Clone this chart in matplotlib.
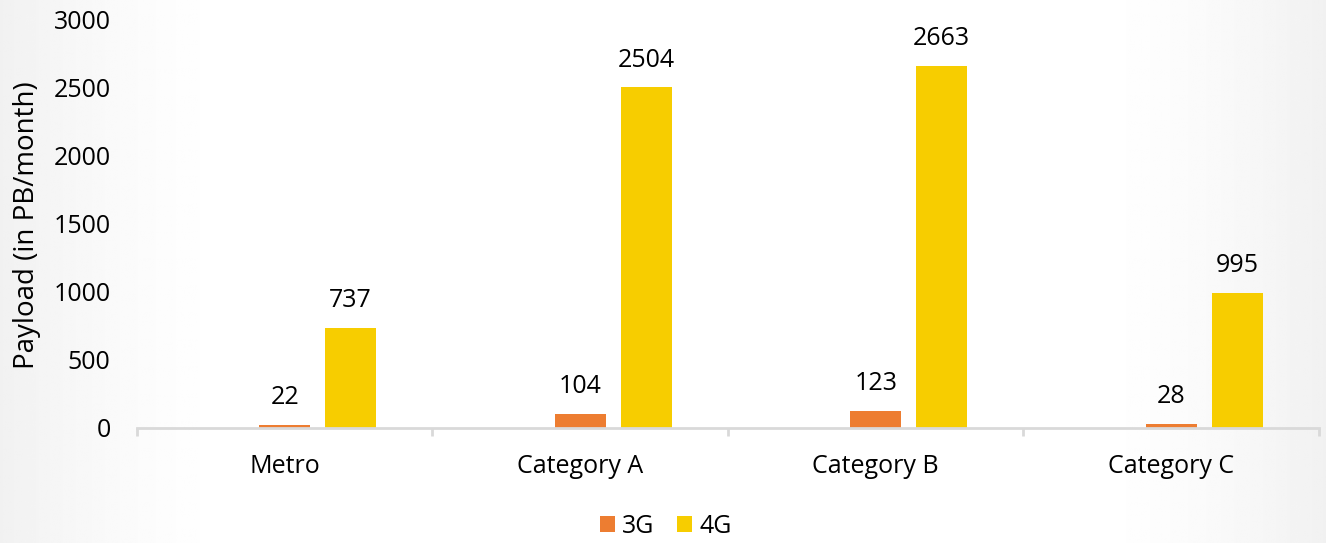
import numpy as np
import matplotlib.pyplot as plt

plt.rcParams['font.family'] = ['Open Sans', 'DejaVu Sans']

categories = ["Metro", "Category A", "Category B", "Category C"]
payload_3g = [22, 104, 123, 28]
payload_4g = [737, 2504, 2663, 995]
y_ticks = [0, 500, 1000, 1500, 2000, 2500, 3000]

color_3g = "#ED7D31"
color_4g = "#F7CD00"
axis_grey = "#D9D9D9"

fig = plt.figure(figsize=(13.26, 5.43), dpi=100)

# soft grey fade towards the left and right edges
bg = fig.add_axes([0, 0, 1, 1], zorder=-10)
xs = np.linspace(0, 1, 600)
edge = np.clip(1 - np.minimum(xs, 1 - xs) / 0.18, 0, 1)
shade = 1 - 0.055 * edge ** 1.5
bg.imshow(np.tile(shade, (20, 1)), cmap="gray", vmin=0, vmax=1,
          aspect="auto", extent=[0, 1, 0, 1])
bg.set_axis_off()

ax = fig.add_axes([0.1033, 0.2118, 0.8914, 0.7514])
ax.patch.set_alpha(0)

x = np.arange(len(categories))
width = 0.1726
step = 0.2234
bars_3g = ax.bar(x, payload_3g, width, color=color_3g, label="3G")
bars_4g = ax.bar(x + step, payload_4g, width, color=color_4g, label="4G")

for bars, vals in ((bars_3g, payload_3g), (bars_4g, payload_4g)):
    for b, v in zip(bars, vals):
        ax.annotate(str(v), (b.get_x() + b.get_width() / 2, v),
                    xytext=(0, 15), textcoords="offset points",
                    ha="center", va="baseline", fontsize=18, color="black")

ax.set_xlim(-0.5, len(categories) - 0.5)
ax.set_ylim(0, 3000)
ax.set_yticks(y_ticks)
ax.tick_params(axis="y", length=0, pad=19, labelsize=18)

ax.set_xticks(x)
ax.set_xticklabels(categories)
ax.set_xticks(np.arange(len(categories) + 1) - 0.5, minor=True)
ax.tick_params(axis="x", which="major", length=0, pad=19, labelsize=18)
ax.tick_params(axis="x", which="minor", length=6, width=2, color=axis_grey)

for side in ("top", "right", "left"):
    ax.spines[side].set_visible(False)
ax.spines["bottom"].set_color(axis_grey)
ax.spines["bottom"].set_linewidth(2)

fig.text(0.020, 0.586, "Payload (in PB/month)", rotation=90,
         ha="center", va="center", fontsize=20)

fig.legend(handles=[bars_3g, bars_4g], labels=["3G", "4G"],
           loc="center", bbox_to_anchor=(0.502, 0.030), ncol=2,
           frameon=False, fontsize=18, handlelength=0.6, handleheight=0.6,
           handletextpad=0.3, columnspacing=0.9)

fig.savefig("out.png", dpi=100)
